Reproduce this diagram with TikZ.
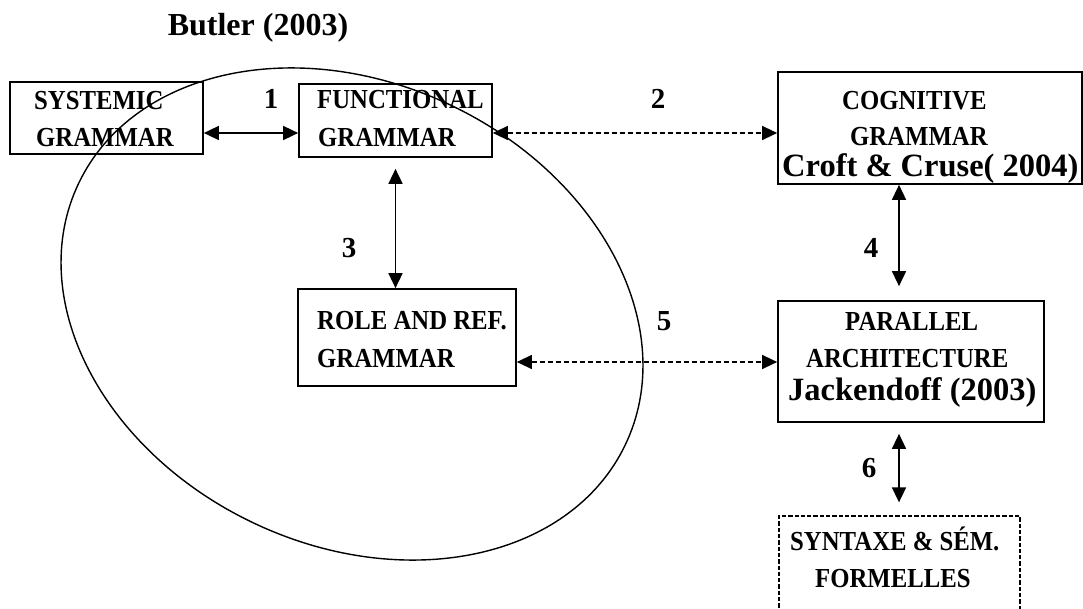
\documentclass[tikz,border=0pt]{standalone}
\usepackage{fontspec}
\setmainfont{Liberation Serif}
\newfontfamily\condserif[FakeStretch=0.9]{Liberation Serif}
\usetikzlibrary{arrows.meta}
\begin{document}
\begin{tikzpicture}[x=1pt,y=-1pt,
  box/.style={draw, line width=1.7pt, inner sep=0pt},
  dbox/.style={draw, line width=1.3pt, dash pattern=on 4.3pt off 2pt, inner sep=0pt},
  captxt/.style={anchor=base west, inner sep=0pt, font=\condserif\fontsize{27.5}{27.5}\selectfont\bfseries},
  citetxt/.style={anchor=base west, inner sep=0pt, font=\fontsize{32.5}{32.5}\selectfont\bfseries},
  numtxt/.style={inner sep=0pt, font=\fontsize{29}{29}\selectfont\bfseries},
  link/.style={line width=1.6pt, <->, >={Triangle[length=15pt,width=14pt]}},
  dlink/.style={link, line width=1.3pt, dash pattern=on 5.3pt off 2.7pt}]
\useasboundingbox (0,0) rectangle (1083,609);
\clip (0,0) rectangle (1083,609);

% boxes
\node[box, minimum width=193pt, minimum height=72pt] (sys) at (106.5,118) {};
\node[box, minimum width=193pt, minimum height=73pt] (fun) at (395.5,120.5) {};
\node[box, minimum width=304pt, minimum height=112pt] (cog) at (930,128) {};
\node[box, minimum width=218pt, minimum height=97pt] (role) at (407,337.5) {};
\node[box, minimum width=266pt, minimum height=121pt] (par) at (911,361.5) {};
\node[dbox, minimum width=241pt, minimum height=130pt] (syn) at (899.5,581) {};

% texts
\node[anchor=base, inner sep=0pt, font=\fontsize{32}{32}\selectfont\bfseries] (butler) at (258,36) {Butler (2003)};
\node[captxt] (t1a) at (34,110) {SYSTEMIC};
\node[captxt] (t1b) at (36,147) {GRAMMAR};
\node[captxt] (t2a) at (317,109) {FUNCTIONAL};
\node[captxt] (t2b) at (318,147) {GRAMMAR};
\node[captxt] (t3a) at (842,110) {COGNITIVE};
\node[captxt] (t3b) at (850,146) {GRAMMAR};
\node[citetxt] (t3c) at (782,177) {Croft \& Cruse( 2004)};
\node[captxt] (t4a) at (317,329) {ROLE AND REF.};
\node[captxt] (t4b) at (317,367) {GRAMMAR};
\node[captxt] (t5a) at (845,330) {PARALLEL};
\node[captxt] (t5b) at (806,367) {ARCHITECTURE};
\node[citetxt] (t5c) at (788,400) {Jackendoff (2003)};
\node[captxt] (t6a) at (790,550) {SYNTAXE \& SÉM.};
\node[captxt] (t6b) at (815,587) {FORMELLES};

% number labels
\node[numtxt] (n1) at (271,99) {1};
\node[numtxt] (n2) at (658,99) {2};
\node[numtxt] (n3) at (349,248) {3};
\node[numtxt] (n4) at (871,248) {4};
\node[numtxt] (n5) at (664,321) {5};
\node[numtxt] (n6) at (869,468) {6};

% connectors
\coordinate (a1) at ([yshift=-15pt]sys.east);
\draw[link] (a1) -- (a1 -| fun.west);
\coordinate (a2) at ([yshift=-12.5pt]fun.east);
\draw[dlink] (a2) -- (a2 -| cog.west);
\coordinate (a3) at (fun.south);
\draw[link, shorten <=11pt] (a3) -- (a3 |- role.north);
\coordinate (a4) at ([xshift=-31pt]cog.south);
\draw[link, shorten >=14pt] (a4) -- (a4 |- par.north);
\coordinate (a5) at ([yshift=-24.5pt]role.east);
\draw[dlink] (a5) -- (a5 -| par.west);
\coordinate (a6) at ([xshift=-12pt]par.south);
\draw[link, shorten <=11pt, shorten >=13pt] (a6) -- (a6 |- syn.north);

% ellipse
\draw[line width=1.4pt, rotate around={-25.6:(352,314)}] (352,314) ellipse [x radius=303, y radius=231];
\end{tikzpicture}
\end{document}
